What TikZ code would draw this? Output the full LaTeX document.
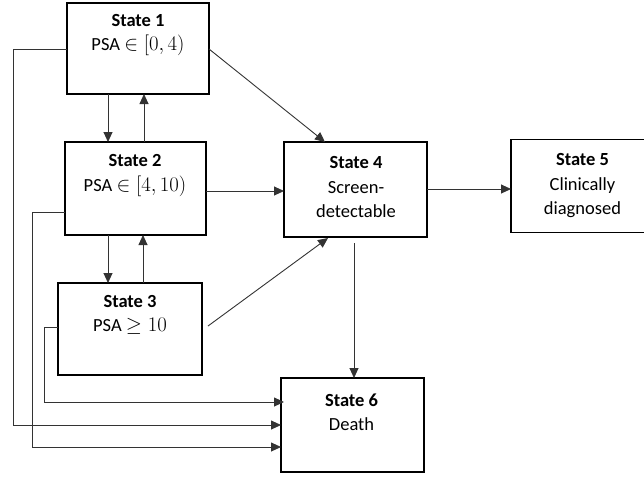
\documentclass[tikz,border=0pt]{standalone}
\usepackage{fontspec}
\setmainfont{Carlito}
\usetikzlibrary{arrows.meta}
\newcommand{\psamath}[1]{{\fontsize{21}{24.5}\selectfont$#1$}}
\begin{document}
\begin{tikzpicture}[x=1pt,y=-1pt,
  box/.style={draw=black,line width=1.6pt,inner sep=0pt,outer sep=0pt},
  txt/.style={align=center,inner sep=0pt,font=\fontsize{18.5}{24.5}\selectfont},
  conn/.style={draw=black!80,line width=0.9pt,-{Triangle[length=10pt,width=9pt]}},
  plain/.style={draw=black!80,line width=0.9pt}]
\useasboundingbox (0,0) rectangle (644,477);
\clip (0,0) rectangle (644,477);
% boxes
\node[box,minimum width=142pt,minimum height=91pt] (s1) at (138,48.5) {};
\node[box,minimum width=141pt,minimum height=93pt] (s2) at (135.5,188.5) {};
\node[box,minimum width=144pt,minimum height=92pt] (s3) at (130,329) {};
\node[box,minimum width=143pt,minimum height=95pt] (s4) at (355.5,189.5) {};
\node[box,minimum width=134pt,minimum height=93pt] (s5) at (578,186) {};
\node[box,minimum width=143pt,minimum height=94pt] (s6) at (352.5,425) {};
% texts
\node[txt] (t1) at (138,35) {\textbf{State 1}\\PSA \psamath{\in[0,4)}};
\node[txt] (t2) at (135,175.5) {\textbf{State 2}\\PSA \psamath{\in[4,10)}};
\node[txt] (t3) at (130,315) {\textbf{State 3}\\PSA \psamath{\geq 10}};
\node[txt] (t4) at (356,187) {\textbf{State 4}\\Screen-\\detectable};
\node[txt] (t5) at (582.5,186) {\textbf{State 5}\\Clinically\\diagnosed};
\node[txt] (t6) at (351.5,412) {\textbf{State 6}\\Death};
% coordinates
\coordinate (c1) at (13,49);
\coordinate (c2) at (32,212);
\coordinate (c3) at (44,327);
% vertical transitions
\draw[conn] (s1.south -| 108,0) -- (s2.north -| 108,0);
\draw[conn] (s2.north -| 144,0) -- (s1.south -| 144,0);
\draw[conn] (s2.south -| 108,0) -- (s3.north -| 108,0);
\draw[conn] (s3.north -| 143,0) -- (s2.south -| 143,0);
% to state 4
\draw[conn] (209,49) -- (325,142);
\draw[conn] (s2.east |- 0,191) -- (s4.west |- 0,191);
\draw[conn] (208,326) -- (328,238);
% 4 to 5, 4 to 6
\draw[conn] (s4.east |- 0,189) -- (s5.west |- 0,189);
\draw[conn] (354,243) -- (s6.north -| 354,0);
% death loops
\draw[conn] (s1.west |- c1) -- (c1) |- (s6.west |- 0,425);
\draw[conn] (s2.west |- c2) -- (c2) |- (s6.west |- 0,447);
\draw[conn] (s3.west |- c3) -- (c3) |- ([xshift=3pt]s6.west |- 0,402);
\end{tikzpicture}
\end{document}
